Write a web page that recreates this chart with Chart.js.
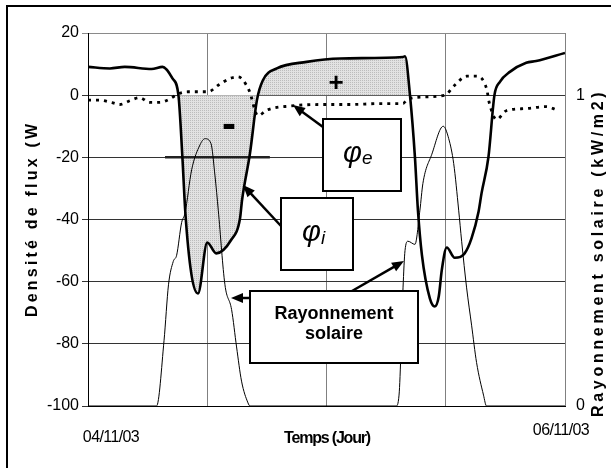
<!DOCTYPE html>
<html>
<head>
<meta charset="utf-8">
<script src="https://cdn.jsdelivr.net/npm/chart.js@4/dist/chart.umd.min.js"></script>
<style>
  html, body { margin: 0; padding: 0; background: #fff; }
  canvas { display: block; }
</style>
</head>
<body>
<canvas id="c" width="611" height="468"></canvas>
<script>
/* ---------- Données ---------- */
// heures depuis le 04/11/03 00h
const phiIHours  = [0, 2.2, 3.7, 6.4, 7.5, 8.5, 9.1, 9.5, 9.8, 10.4, 11.07, 12.0, 12.9, 14.4, 15.3, 15.5, 16.3, 17.0, 17.6, 19.0, 22.0, 25.4, 31.7, 31.9, 32.4, 32.9, 33.2, 33.6, 34.4, 34.9, 35.3, 35.6, 36.1, 36.9, 37.9, 38.6, 39.3, 39.6, 40.3, 40.9, 41.45, 42.45, 44.1, 45.1, 48];
const phiIValues = [9.1, 8.6, 9.1, 8.4, 9.1, 5.4, 0, -20, -38, -57.5, -63.8, -47.4, -50.9, -46.6, -39.6, -33.8, -18.7, -1.6, 4.8, 8.6, 10.7, 11.8, 12.3, 12.5, 0, -20, -37, -51.4, -65.4, -68, -64.7, -56.3, -49, -52.3, -50.9, -46, -37.5, -31.6, -19.8, 0, 4.3, 7.5, 10.4, 11, 13.6];

const phiEHours  = [0, 1.2, 2.4, 3.2, 4.2, 5.2, 6.2, 7.2, 8.3, 9.05, 10.06, 12.1, 13.1, 14.3, 15.1, 16.2, 17.1, 18.0, 20.3, 23.6, 26.4, 29.4, 31.7, 32.06, 33.1, 35.9, 36.9, 38.1, 39.1, 40.1, 40.4, 41.1, 42.1, 44.1, 46.1, 47.1];
const phiEValues = [-1.6, -1.6, -2.4, -3.0, -1.8, -0.8, -2.3, -2.3, -1.1, 0.4, 1.1, 1.1, 3.2, 5.4, 5.9, 1.6, -6.6, -4.8, -3.5, -3, -3, -2.7, -2.7, -1.6, -0.7, 0, 3.2, 6.1, 6.1, 2.2, -2.7, -7.8, -5, -4.3, -3.7, -4.6];

// kW/m2
const solarHours  = [0, 6.9, 7.65, 8.1, 8.58, 8.92, 9.42, 9.76, 10.43, 11.27, 11.77, 12.37, 12.78, 13.11, 13.78, 14.45, 14.95, 15.45, 16.1, 16.3, 31.0, 31.3, 31.7, 31.9, 32.2, 32.9, 33.4, 33.7, 34.6, 35.75, 36.3, 36.8, 37.3, 37.6, 38.1, 38.6, 39.1, 39.8, 40.1, 48];
const solarValues = [0, 0, 0.21, 0.39, 0.465, 0.485, 0.59, 0.62, 0.76, 0.84, 0.86, 0.845, 0.74, 0.63, 0.39, 0.31, 0.19, 0.08, 0.01, 0, 0, 0.035, 0.38, 0.50, 0.53, 0.52, 0.63, 0.716, 0.81, 0.90, 0.86, 0.78, 0.63, 0.53, 0.38, 0.26, 0.14, 0.035, 0, 0];

// trait horizontal repère à -20
const refLineHours  = [7.75, 18.3];
const refLineValues = [-20, -20];

// zone grisée : période entre ces deux passages à zéro de φi
const zoneStart = 9.1, zoneEnd = 32.4;

const fluxTicks  = [20, 0, -20, -40, -60, -80, -100];
const solarTicks = [0, 1];
const dateLabels = ['04/11/03', '06/11/03'];

const pts = (xs, ys) => xs.map((x, i) => ({ x, y: ys[i] }));

/* ---------- Motif pointillé gris ---------- */
function stipple() {
  const p = document.createElement('canvas');
  p.width = 2; p.height = 2;
  const g = p.getContext('2d');
  g.fillStyle = '#e2e2e2'; g.fillRect(0, 0, 2, 2);
  g.fillStyle = '#bcbcbc'; g.fillRect(0, 0, 1, 1);
  return g.createPattern(p, 'repeat');
}

/* ---------- Helpers de dessin ---------- */
function txt(ctx, text, x, y, { font, spacing = 0, align = 'center', baseline = 'middle', rotate = 0 } = {}) {
  ctx.save();
  ctx.translate(x, y);
  if (rotate) ctx.rotate(rotate);
  ctx.font = font;
  ctx.letterSpacing = spacing + 'px';
  ctx.textAlign = align;
  ctx.textBaseline = baseline;
  ctx.fillStyle = '#000';
  ctx.fillText(text, 0, 0);
  ctx.restore();
}

function box(ctx, x, y, w, h) {
  ctx.save();
  ctx.fillStyle = '#fff';
  ctx.fillRect(x, y, w, h);
  ctx.strokeStyle = '#000';
  ctx.lineWidth = 2;
  ctx.strokeRect(x, y, w, h);
  ctx.restore();
}

function arrow(ctx, x1, y1, x2, y2) {
  const a = Math.atan2(y2 - y1, x2 - x1), L = 12, W = 5;
  const c = Math.cos(a), s = Math.sin(a);
  ctx.save();
  ctx.strokeStyle = '#000'; ctx.fillStyle = '#000'; ctx.lineWidth = 2.5;
  ctx.beginPath();
  ctx.moveTo(x1, y1);
  ctx.lineTo(x2 - c * L * 0.8, y2 - s * L * 0.8);
  ctx.stroke();
  ctx.beginPath();
  ctx.moveTo(x2, y2);
  ctx.lineTo(x2 - L * c + W * s, y2 - L * s - W * c);
  ctx.lineTo(x2 - L * c - W * s, y2 - L * s + W * c);
  ctx.closePath();
  ctx.fill();
  ctx.restore();
}

/* ---------- Annotations, titres, cadre ---------- */
const decor = {
  id: 'decor',
  beforeDraw(chart) {
    const ctx = chart.ctx;
    ctx.save();
    ctx.fillStyle = '#fff';
    ctx.fillRect(0, 0, chart.width, chart.height);
    ctx.strokeStyle = '#000';
    ctx.lineWidth = 2;
    ctx.strokeRect(7, 6, 640, 500);
    ctx.restore();
  },
  afterDatasetsDraw(chart) {
    const ctx = chart.ctx;
    const { x } = chart.scales;

    // signes
    txt(ctx, '-', 229, 126, { font: 'bold 42px "Liberation Sans"' });
    txt(ctx, '+', 336, 84, { font: 'bold 26px "Liberation Sans"' });

    // φe
    arrow(ctx, 323, 127, 293, 105);
    box(ctx, 323, 119, 78, 72);
    txt(ctx, 'φ', 343, 162, { font: 'italic 29px "Liberation Sans"', align: 'left', baseline: 'alphabetic' });
    txt(ctx, 'e', 362, 164, { font: 'italic 19px "Liberation Sans"', align: 'left', baseline: 'alphabetic' });

    // φi
    arrow(ctx, 281, 226, 243, 185);
    box(ctx, 281, 198, 72, 72);
    txt(ctx, 'φ', 302, 241, { font: 'italic 29px "Liberation Sans"', align: 'left', baseline: 'alphabetic' });
    txt(ctx, 'i', 321, 244, { font: 'italic 19px "Liberation Sans"', align: 'left', baseline: 'alphabetic' });

    // Rayonnement solaire
    arrow(ctx, 250, 298, 231, 298);
    arrow(ctx, 352, 291, 404, 261);
    box(ctx, 250, 291, 168, 72);
    txt(ctx, 'Rayonnement', 334, 314, { font: 'bold 18px "Liberation Sans"' });
    txt(ctx, 'solaire', 334, 334, { font: 'bold 18px "Liberation Sans"' });

    // dates
    txt(ctx, dateLabels[0], x.getPixelForValue(0) + 23, 438, { font: '16px "Liberation Sans"', spacing: -0.6 });
    txt(ctx, dateLabels[1], x.getPixelForValue(48) - 4, 431, { font: '16px "Liberation Sans"', spacing: -0.6 });

    // titres d'axes
    txt(ctx, 'Temps (Jour)', 327, 439, { font: 'bold 16px "Liberation Sans"', spacing: -1.2 });
    txt(ctx, 'Densité de flux (W', 33, 317, { font: 'bold 16px "Liberation Sans"', spacing: 3.2, align: 'left', rotate: -Math.PI / 2 });
    txt(ctx, 'Rayonnement solaire (kW/m2)', 599, 417, { font: 'bold 16px "Liberation Sans"', spacing: 3.7, align: 'left', rotate: -Math.PI / 2 });
  }
};

/* ---------- Graphique ---------- */
const tickFont = { family: 'Liberation Sans', size: 16 };

new Chart(document.getElementById('c'), {
  type: 'line',
  data: {
    datasets: [
      { label: 'φi', data: pts(phiIHours, phiIValues), borderColor: '#000', borderWidth: 2.6, yAxisID: 'y' },
      { label: 'φe', data: pts(phiEHours, phiEValues), borderColor: '#000', borderWidth: 2.8,
        borderDash: [3, 5], borderCapStyle: 'butt', yAxisID: 'y' },
      { label: 'Rayonnement solaire', data: pts(solarHours, solarValues), borderColor: '#000', borderWidth: 1, yAxisID: 'y1' },
      { label: 'repère', data: pts(refLineHours, refLineValues), borderColor: '#222', borderWidth: 2.5, yAxisID: 'y' },
      { label: 'zone', data: pts(phiIHours, phiIValues).filter(p => p.x >= zoneStart && p.x <= zoneEnd),
        borderWidth: 0, borderColor: 'rgba(0,0,0,0)', backgroundColor: stipple(), fill: { value: 0 }, yAxisID: 'y' }
    ]
  },
  options: {
    responsive: false,
    animation: false,
    devicePixelRatio: 1,
    layout: { padding: { top: 33, left: 0, right: 0, bottom: 0 } },
    plugins: { legend: { display: false }, tooltip: { enabled: false } },
    elements: {
      point: { radius: 0 },
      line: { cubicInterpolationMode: 'monotone', fill: false }
    },
    scales: {
      x: {
        type: 'linear', min: 0, max: 48,
        ticks: { stepSize: 12, display: false },
        grid: { color: '#808080', drawTicks: false },
        border: { color: '#000' },
        afterFit: s => { s.height = 62; }
      },
      y: {
        min: -100, max: 20,
        afterBuildTicks: s => { s.ticks = fluxTicks.map(v => ({ value: v })); },
        ticks: { color: '#000', font: tickFont, padding: 3 },
        grid: { color: c => (c.tick && c.tick.value === 20 ? '#8a8a8a' : '#333'), tickLength: 6 },
        border: { color: '#000' },
        afterFit: s => { s.width = 88; }
      },
      y1: {
        position: 'right', min: 0, max: 1.2,
        afterBuildTicks: s => { s.ticks = solarTicks.map(v => ({ value: v })); },
        ticks: { color: '#000', font: tickFont, padding: 11 },
        grid: { display: false, drawTicks: false },
        border: { display: false },
        afterFit: s => { s.width = 46; }
      }
    }
  },
  plugins: [decor]
});
</script>
</body>
</html>
